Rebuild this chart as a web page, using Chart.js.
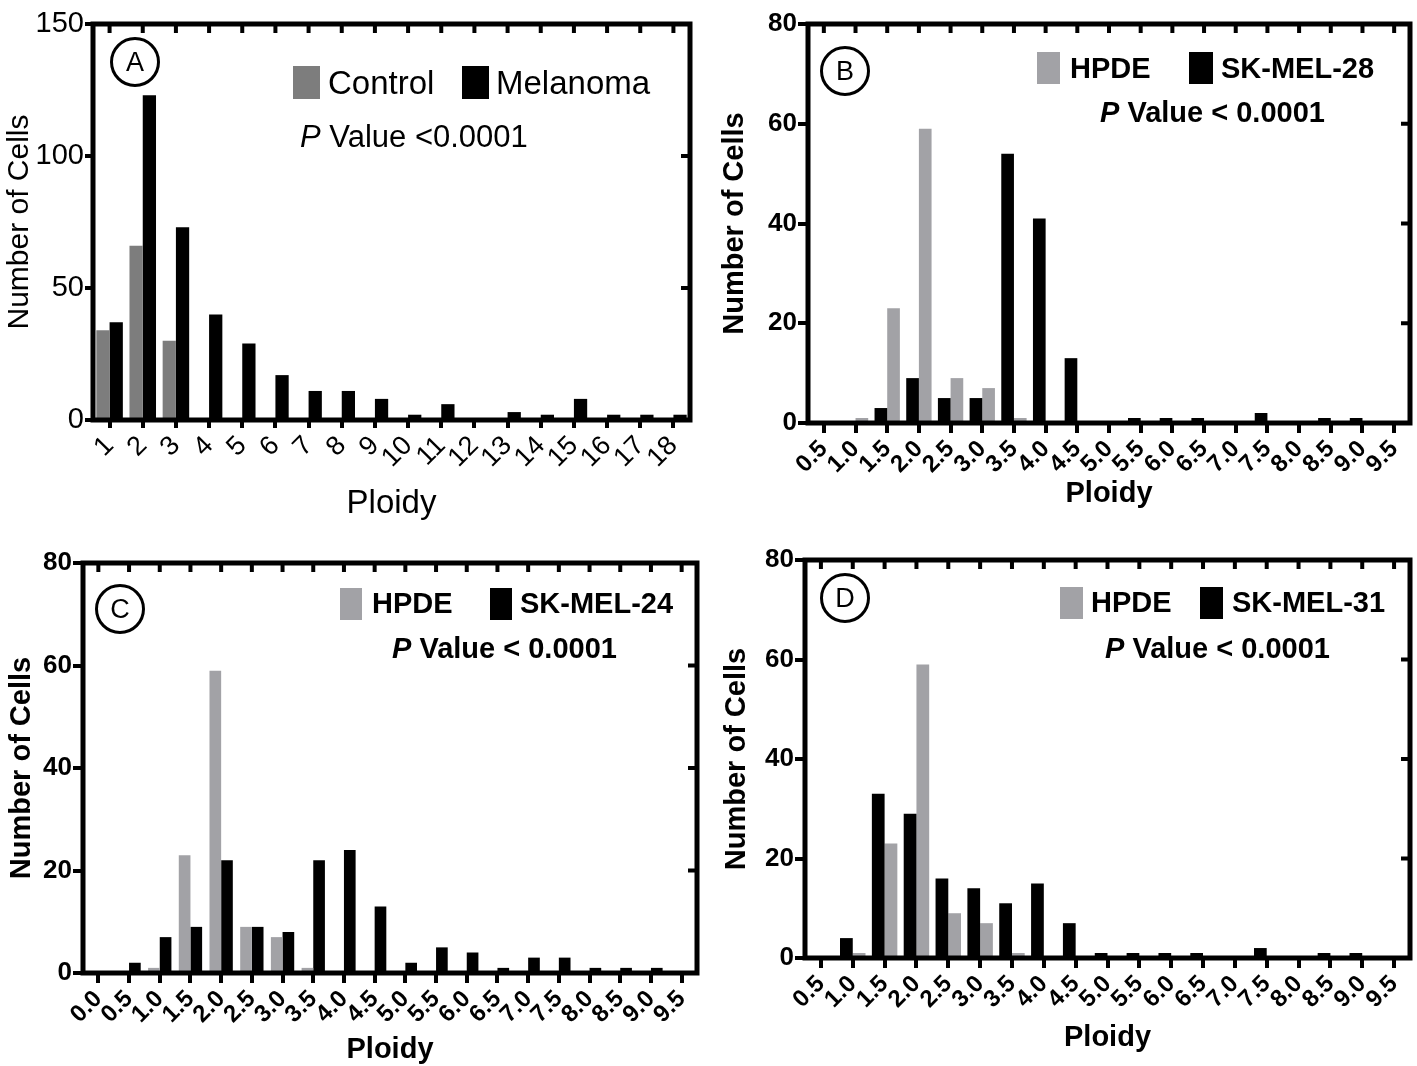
<!DOCTYPE html>
<html>
<head>
<meta charset="utf-8">
<script src="https://cdn.jsdelivr.net/npm/chart.js@4.4.0/dist/chart.umd.min.js"></script>
<style>
html, body { margin: 0; padding: 0; background: #fff; }
#page { position: relative; width: 1417px; height: 1066px; overflow: hidden; font-family: "Liberation Sans", Arial, sans-serif; color: #000; }
canvas { position: absolute; }
.txt { position: absolute; white-space: nowrap; }
.b { font-weight: bold; }
.sw { position: absolute; }
.circ { position: absolute; width: 50px; height: 50px; border: 3px solid #000; border-radius: 50%; box-sizing: border-box;
        display: flex; align-items: center; justify-content: center; font-size: 27px; line-height: 1; }
</style>
</head>
<body>
<div id="page">
  <canvas id="cA" width="708" height="530" style="left:0;top:0"></canvas>
  <canvas id="cB" width="709" height="530" style="left:708px;top:0"></canvas>
  <canvas id="cC" width="708" height="536" style="left:0;top:530px"></canvas>
  <canvas id="cD" width="709" height="536" style="left:708px;top:530px"></canvas>

  <!-- panel A labels -->
  <div class="circ" style="left:110px;top:37px">A</div>
  <div class="sw" style="left:293px;top:66px;width:27px;height:33px;background:#7d7d7d"></div>
  <div class="txt" style="left:328px;top:65.5px;font-size:33px;line-height:33px">Control</div>
  <div class="sw" style="left:462px;top:66px;width:27px;height:33px;background:#000"></div>
  <div class="txt" style="left:496px;top:65.5px;font-size:33px;line-height:33px">Melanoma</div>
  <div class="txt" style="left:300px;top:120.5px;font-size:31px;line-height:31px"><i>P</i> Value &lt;0.0001</div>

  <!-- panel B labels -->
  <div class="circ" style="left:820px;top:46px">B</div>
  <div class="sw" style="left:1037px;top:52px;width:23px;height:32px;background:#a2a2a6"></div>
  <div class="txt b" style="left:1070px;top:53.5px;font-size:29px;line-height:29px">HPDE</div>
  <div class="sw" style="left:1189px;top:52px;width:24px;height:32px;background:#000"></div>
  <div class="txt b" style="left:1221px;top:53.5px;font-size:29px;line-height:29px">SK-MEL-28</div>
  <div class="txt b" style="left:1100px;top:97.5px;font-size:29px;line-height:29px"><i>P</i> Value &lt; 0.0001</div>

  <!-- panel C labels -->
  <div class="circ" style="left:95px;top:584px">C</div>
  <div class="sw" style="left:340px;top:588px;width:22px;height:32px;background:#a2a2a6"></div>
  <div class="txt b" style="left:372px;top:588.5px;font-size:29px;line-height:29px">HPDE</div>
  <div class="sw" style="left:490px;top:588px;width:22px;height:32px;background:#000"></div>
  <div class="txt b" style="left:520px;top:588.5px;font-size:29px;line-height:29px">SK-MEL-24</div>
  <div class="txt b" style="left:392px;top:633.5px;font-size:29px;line-height:29px"><i>P</i> Value &lt; 0.0001</div>

  <!-- panel D labels -->
  <div class="circ" style="left:820px;top:573px">D</div>
  <div class="sw" style="left:1060px;top:587px;width:23px;height:32px;background:#a2a2a6"></div>
  <div class="txt b" style="left:1091px;top:587.5px;font-size:29px;line-height:29px">HPDE</div>
  <div class="sw" style="left:1200px;top:587px;width:23px;height:32px;background:#000"></div>
  <div class="txt b" style="left:1232px;top:587.5px;font-size:29px;line-height:29px">SK-MEL-31</div>
  <div class="txt b" style="left:1105px;top:633.5px;font-size:29px;line-height:29px"><i>P</i> Value &lt; 0.0001</div>
</div>

<script>
// Panel A: control vs melanoma, ploidy 1..18
const ploidyA   = ['1','2','3','4','5','6','7','8','9','10','11','12','13','14','15','16','17','18'];
const controlA  = [34, 66, 30, 0, 0, 0, 0, 0, 0, 0, 0, 0, 0, 0, 0, 0, 0, 0];
const melanomaA = [37, 123, 73, 40, 29, 17, 11, 11, 8, 2, 6, 0, 3, 2, 8, 2, 2, 2];

// Panel B: HPDE vs SK-MEL-28, ploidy 0.5..9.5
const ploidyB  = ['0.5','1.0','1.5','2.0','2.5','3.0','3.5','4.0','4.5','5.0','5.5','6.0','6.5','7.0','7.5','8.0','8.5','9.0','9.5'];
const hpdeB    = [0, 1, 23, 59, 9, 7, 1, 0, 0, 0, 0, 0, 0, 0, 0, 0, 0, 0, 0];
const skmel28  = [0, 0, 3, 9, 5, 5, 54, 41, 13, 0, 1, 1, 1, 0, 2, 0, 1, 1, 0];

// Panel C: HPDE vs SK-MEL-24, ploidy 0.0..9.5
const ploidyC  = ['0.0','0.5','1.0','1.5','2.0','2.5','3.0','3.5','4.0','4.5','5.0','5.5','6.0','6.5','7.0','7.5','8.0','8.5','9.0','9.5'];
const hpdeC    = [0, 0, 1, 23, 59, 9, 7, 1, 0, 0, 0, 0, 0, 0, 0, 0, 0, 0, 0, 0];
const skmel24  = [0, 2, 7, 9, 22, 9, 8, 22, 24, 13, 2, 5, 4, 1, 3, 3, 1, 1, 1, 0];

// Panel D: HPDE vs SK-MEL-31, ploidy 0.5..9.5
const ploidyD  = ['0.5','1.0','1.5','2.0','2.5','3.0','3.5','4.0','4.5','5.0','5.5','6.0','6.5','7.0','7.5','8.0','8.5','9.0','9.5'];
const hpdeD    = [0, 1, 23, 59, 9, 7, 1, 0, 0, 0, 0, 0, 0, 0, 0, 0, 0, 0, 0];
const skmel31  = [0, 4, 33, 29, 16, 14, 11, 15, 7, 1, 1, 1, 1, 0, 2, 0, 1, 1, 0];

const GRAY_A = '#7d7d7d';
const GRAY   = '#a2a2a6';
const FONT   = '"Liberation Sans", Arial, sans-serif';

// closed box round the plot area, with small inward ticks on top and right
const framePlugin = {
  id: 'frame',
  afterDatasetsDraw(chart) {
    const {ctx, chartArea: a, scales: {x, y}} = chart;
    ctx.save();
    ctx.strokeStyle = '#000';
    ctx.lineWidth = 5;
    ctx.strokeRect(a.left, a.top, a.right - a.left, a.bottom - a.top);
    ctx.lineWidth = 4;
    ctx.beginPath();
    x.ticks.forEach((t, i) => {
      const px = x.getPixelForTick(i);
      ctx.moveTo(px, a.top);
      ctx.lineTo(px, a.top + 9);
    });
    y.ticks.forEach(t => {
      if (t.value <= y.min || t.value >= y.max) return;
      const py = y.getPixelForValue(t.value);
      ctx.moveTo(a.right, py);
      ctx.lineTo(a.right - 9, py);
    });
    ctx.stroke();
    ctx.restore();
  }
};

function makePanel(id, p) {
  const bold = p.bold ? 'bold' : 'normal';
  return new Chart(document.getElementById(id), {
    type: 'bar',
    data: {
      labels: p.labels,
      datasets: p.sets.map(s => ({
        label: s.label,
        data: s.data,
        backgroundColor: s.color,
        borderWidth: 0,
        categoryPercentage: p.catPct,
        barPercentage: 1.0,
      })),
    },
    options: {
      responsive: false,
      animation: false,
      events: [],
      layout: { autoPadding: false, padding: p.pad },
      plugins: { legend: { display: false }, tooltip: { enabled: false } },
      scales: {
        x: {
          afterFit: s => { s.height = p.xHeight; },
          grid: { display: true, offset: false, drawOnChartArea: false, drawTicks: true,
                  tickLength: p.tickLen, lineWidth: 4, color: '#000' },
          border: { display: false },
          ticks: { autoSkip: false, minRotation: 45, maxRotation: 45, padding: 2, color: '#000',
                   font: { family: FONT, size: p.xFont, weight: bold } },
          title: { display: true, text: 'Ploidy', color: '#000', padding: { top: 0, bottom: p.xTitlePad },
                   font: { family: FONT, size: p.titleFont[0], weight: bold, lineHeight: 1 } },
        },
        y: {
          min: 0, max: p.yMax,
          afterFit: s => { s.width = p.yWidth; },
          grid: { display: true, drawOnChartArea: false, drawTicks: true,
                  tickLength: p.tickLen, lineWidth: 4, color: '#000' },
          border: { display: false },
          ticks: { stepSize: p.yStep, padding: 1, color: '#000',
                   font: { family: FONT, size: p.yFont, weight: bold } },
          title: { display: true, text: 'Number of Cells', color: '#000', padding: { top: p.yTitlePad, bottom: 0 },
                   font: { family: FONT, size: p.titleFont[1], weight: bold, lineHeight: 1 } },
        },
      },
    },
    plugins: [framePlugin],
  });
}

makePanel('cA', {
  labels: ploidyA,
  sets: [
    { label: 'Control',  data: controlA,  color: GRAY_A },
    { label: 'Melanoma', data: melanomaA, color: '#000' },
  ],
  catPct: 0.8, yMax: 150, yStep: 50, bold: false,
  pad: { left: 0, top: 24, right: 18, bottom: 0 },
  yWidth: 93, xHeight: 110, tickLen: 8,
  xFont: 27, yFont: 29, titleFont: [33, 30], xTitlePad: 10, yTitlePad: 5,
});

makePanel('cB', {
  labels: ploidyB,
  sets: [
    { label: 'SK-MEL-28', data: skmel28, color: '#000' },
    { label: 'HPDE',      data: hpdeB,   color: GRAY },
  ],
  catPct: 0.8, yMax: 80, yStep: 20, bold: true,
  pad: { left: 0, top: 24, right: 7, bottom: 0 },
  yWidth: 100, xHeight: 107, tickLen: 10,
  xFont: 24, yFont: 26, titleFont: [29, 29], xTitlePad: 22, yTitlePad: 12,
});

makePanel('cC', {
  labels: ploidyC,
  sets: [
    { label: 'HPDE',      data: hpdeC,   color: GRAY },
    { label: 'SK-MEL-24', data: skmel24, color: '#000' },
  ],
  catPct: 0.76, yMax: 80, yStep: 20, bold: true,
  pad: { left: 0, top: 33, right: 11, bottom: 0 },
  yWidth: 83, xHeight: 93, tickLen: 10,
  xFont: 24, yFont: 26, titleFont: [29, 29], xTitlePad: 2, yTitlePad: 7,
});

makePanel('cD', {
  labels: ploidyD,
  sets: [
    { label: 'SK-MEL-31', data: skmel31, color: '#000' },
    { label: 'HPDE',      data: hpdeD,   color: GRAY },
  ],
  catPct: 0.8, yMax: 80, yStep: 20, bold: true,
  pad: { left: 0, top: 30, right: 7, bottom: 0 },
  yWidth: 97, xHeight: 108, tickLen: 10,
  xFont: 24, yFont: 26, titleFont: [29, 29], xTitlePad: 14, yTitlePad: 14,
});
</script>
</body>
</html>
